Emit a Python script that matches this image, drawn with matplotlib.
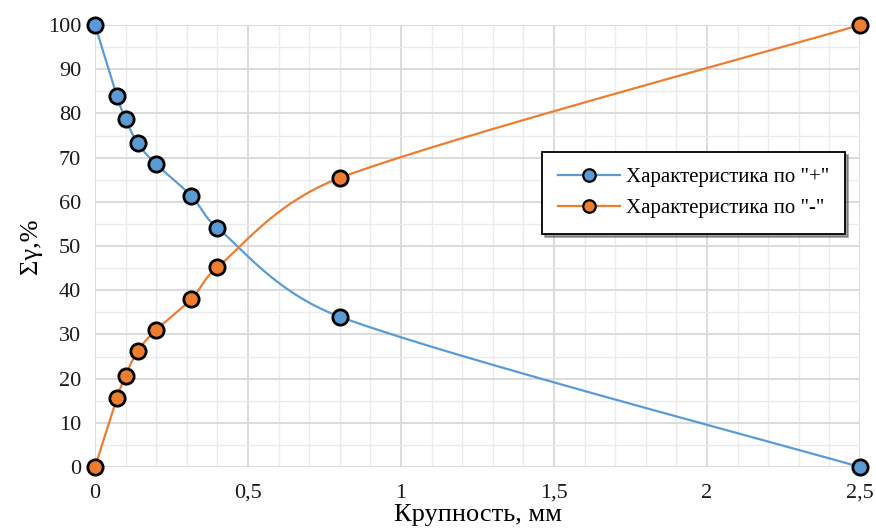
import numpy as np
import matplotlib
matplotlib.use("Agg")
import matplotlib.pyplot as plt
from matplotlib.ticker import MultipleLocator, FuncFormatter

plt.rcParams['font.family'] = ['Liberation Serif', 'DejaVu Serif']

size_mm = [0, 0.071, 0.1, 0.14, 0.2, 0.315, 0.4, 0.8, 2.5]
plus_vals = [100, 84.0, 78.7, 73.2, 68.5, 61.3, 54.1, 34.0, 0]
minus_vals = [0, 15.5, 20.7, 26.3, 31.0, 38.0, 45.2, 65.4, 100]
labels = ['Характеристика по "+"', 'Характеристика по "-"']
colors = ['#5B9BD5', '#ED7D31']
marker_colors = ['#5B9BD5', '#ED7D31']

XMAX, YMAX = 2.5, 100
AX_W_PX, AX_H_PX = 765, 442


def smooth(x, y, n=60):
    # Excel-like smoothed line: Catmull-Rom Bezier in screen space,
    # handles capped at a fraction of the segment length
    sxf = AX_W_PX / XMAX
    syf = AX_H_PX / YMAX
    P = np.column_stack([np.asarray(x, float) * sxf, np.asarray(y, float) * syf])
    m = len(P)
    D = np.zeros_like(P)
    for i in range(m):
        D[i] = (P[min(i + 1, m - 1)] - P[max(i - 1, 0)]) / 6
    xs, ys = [], []
    t = np.linspace(0, 1, n)[:, None]
    for i in range(m - 1):
        p1, p2 = P[i], P[i + 1]
        seg = np.linalg.norm(p2 - p1)
        d1, d2 = D[i], D[i + 1]
        cap = 0.45 * seg
        if np.linalg.norm(d1) > cap:
            d1 = d1 / np.linalg.norm(d1) * cap
        if np.linalg.norm(d2) > cap:
            d2 = d2 / np.linalg.norm(d2) * cap
        c1 = p1 + d1
        c2 = p2 - d2
        b = (1 - t) ** 3 * p1 + 3 * (1 - t) ** 2 * t * c1 + 3 * (1 - t) * t ** 2 * c2 + t ** 3 * p2
        xs.extend(b[:, 0]); ys.extend(b[:, 1])
    return np.array(xs) / sxf, np.array(ys) / syf


fig = plt.figure(figsize=(8.76, 5.29), dpi=100)
ax = fig.add_axes([95 / 876, 1 - 467 / 529, AX_W_PX / 876, AX_H_PX / 529])

for vals, lab, c, mc in zip([plus_vals, minus_vals], labels, colors, marker_colors):
    sx, sy = smooth(size_mm, vals)
    ax.plot(sx, sy, color=c, lw=1.6, zorder=3)
    ax.plot(size_mm, vals, linestyle='none', marker='o', ms=11, mfc=mc,
            mec='black', mew=2.0, zorder=4, clip_on=False)
    ax.plot([], [], color=c, lw=1.6, marker='o', ms=9, mfc=mc, mec='black',
            mew=1.6, label=lab)

ax.set_xlim(0, XMAX)
ax.set_ylim(0, YMAX)
ax.xaxis.set_major_locator(MultipleLocator(0.5))
ax.xaxis.set_minor_locator(MultipleLocator(0.1))
ax.yaxis.set_major_locator(MultipleLocator(10))
ax.yaxis.set_minor_locator(MultipleLocator(5))
ax.xaxis.set_major_formatter(FuncFormatter(lambda v, p: ('%g' % v).replace('.', ',')))
ax.grid(which='major', color='#d9d9d9', lw=1.3, zorder=0)
ax.grid(which='minor', color='#ebebeb', lw=1.0, zorder=0)
ax.set_axisbelow(True)
for s in ax.spines.values():
    s.set_visible(False)
ax.tick_params(which='both', length=0, labelsize=16, colors='#1a1a1a')
ax.tick_params(axis='x', pad=12)
ax.tick_params(axis='y', pad=10)

ax.set_xlabel('Крупность, мм', fontsize=19, labelpad=1)
ax.set_ylabel('Σγ,%', fontsize=19, labelpad=4)

leg = ax.legend(loc='upper left', bbox_to_anchor=((542 - 95) / 765, (467 - 152) / 442),
                fontsize=15, frameon=True, fancybox=False, edgecolor='black',
                borderpad=0.75, labelspacing=0.55, handlelength=3.0,
                handletextpad=0.3, borderaxespad=0, shadow=True)
leg.get_frame().set_linewidth(1.3)

fig.savefig('out.png', dpi=100)
